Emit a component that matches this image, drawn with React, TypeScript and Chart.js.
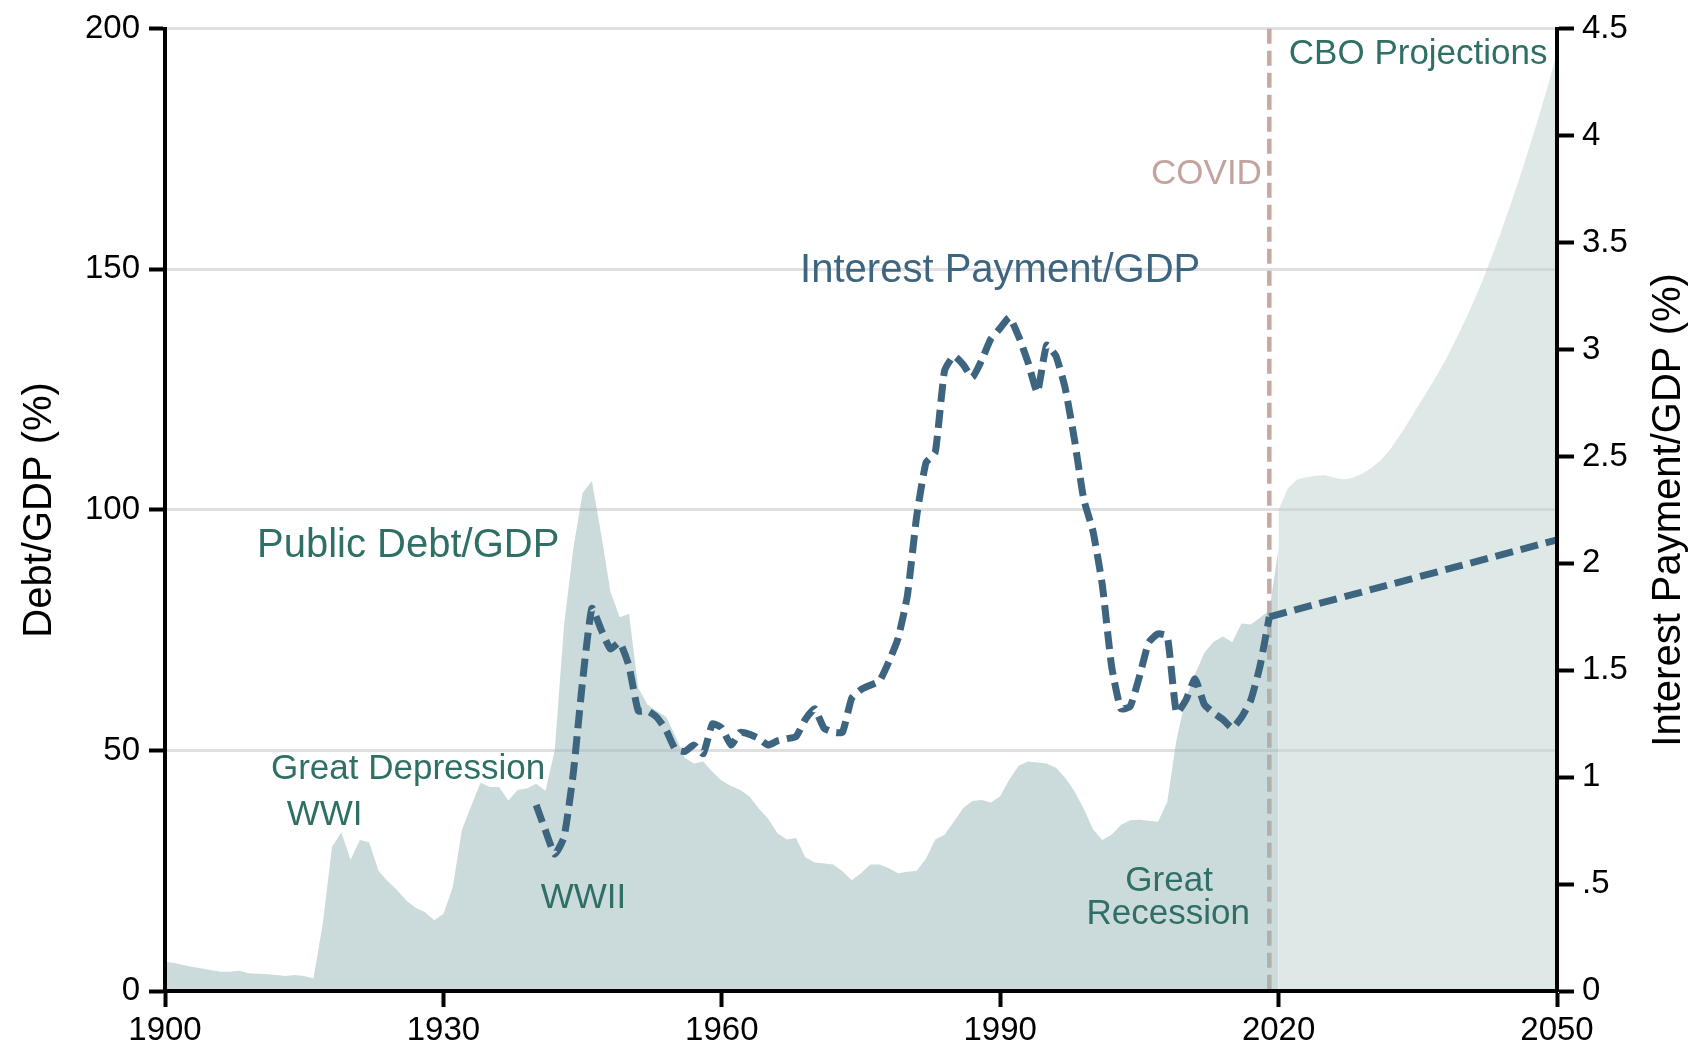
import React, { useEffect, useRef } from 'react';
import { Chart, registerables } from 'chart.js';

Chart.register(...registerables);

const FONT = "'Liberation Sans', Arial, Helvetica, sans-serif";

// Public debt / GDP (%), historical
const debtYears = [
  1900, 1901, 1902, 1903, 1904, 1905, 1906, 1907, 1908, 1909,
  1910, 1911, 1912, 1913, 1914, 1915, 1916, 1917, 1918, 1919,
  1920, 1921, 1922, 1923, 1924, 1925, 1926, 1927, 1928, 1929,
  1930, 1931, 1932, 1933, 1934, 1935, 1936, 1937, 1938, 1939,
  1940, 1941, 1942, 1943, 1944, 1945, 1946, 1947, 1948, 1949,
  1950, 1951, 1952, 1953, 1954, 1955, 1956, 1957, 1958, 1959,
  1960, 1961, 1962, 1963, 1964, 1965, 1966, 1967, 1968, 1969,
  1970, 1971, 1972, 1973, 1974, 1975, 1976, 1977, 1978, 1979,
  1980, 1981, 1982, 1983, 1984, 1985, 1986, 1987, 1988, 1989,
  1990, 1991, 1992, 1993, 1994, 1995, 1996, 1997, 1998, 1999,
  2000, 2001, 2002, 2003, 2004, 2005, 2006, 2007, 2008, 2009,
  2010, 2011, 2012, 2013, 2014, 2015, 2016, 2017, 2018, 2019,
  2020,
];
const debtValues = [
  6.1, 5.8, 5.4, 5.0, 4.7, 4.3, 4.0, 4.0, 4.2, 3.7,
  3.6, 3.5, 3.3, 3.1, 3.3, 3.1, 2.6, 14.0, 30.0, 33.0,
  27.3, 31.4, 30.9, 25.0, 22.8, 21.0, 18.8, 17.3, 16.4, 14.7,
  16.0, 21.5, 33.5, 38.5, 43.3, 42.4, 42.4, 39.6, 41.8, 42.1,
  43.1, 41.6, 50.0, 76.0, 92.0, 103.5, 106.0, 95.0, 83.0, 77.7,
  78.4, 63.0, 59.5, 58.2, 57.0, 53.0, 48.5, 47.3, 47.7, 45.5,
  43.7, 42.6, 41.8, 40.4, 37.9, 35.8, 32.8, 31.5, 31.8, 27.8,
  26.7, 26.5, 26.3, 24.9, 23.0, 24.5, 26.3, 26.3, 25.5, 24.5,
  24.8, 25.0, 27.5, 31.5, 32.5, 35.2, 38.0, 39.5, 39.7, 39.2,
  40.5, 44.0, 46.8, 47.7, 47.5, 47.3, 46.4, 44.3, 41.5, 37.9,
  33.6, 31.4, 32.5, 34.5, 35.5, 35.6, 35.4, 35.2, 39.3, 52.3,
  60.9, 65.9, 70.3, 72.6, 73.7, 72.5, 76.4, 76.2, 77.6, 79.2,
  92.0,
];

// CBO projection of public debt / GDP (%)
const projYears = [
  2020, 2021, 2022, 2023, 2024, 2025, 2026, 2027, 2028, 2029,
  2030, 2031, 2032, 2033, 2034, 2035, 2036, 2037, 2038, 2039,
  2040, 2041, 2042, 2043, 2044, 2045, 2046, 2047, 2048, 2049,
  2050,
];
const projValues = [
  100.0, 104.5, 106.3, 106.8, 107.1, 107.2, 106.7, 106.3, 106.7, 107.5,
  108.7, 110.3, 112.5, 115.3, 118.3, 121.5, 124.6, 127.8, 131.2, 135.0,
  139.0, 143.2, 147.8, 152.8, 158.0, 163.5, 169.2, 175.2, 181.5, 188.0,
  195.0,
];

// Interest payment / GDP (%), historical
const interestYears = [
  1940, 1941, 1942, 1943, 1944, 1945, 1946, 1947, 1948, 1949,
  1950, 1951, 1952, 1953, 1954, 1955, 1956, 1957, 1958, 1959,
  1960, 1961, 1962, 1963, 1964, 1965, 1966, 1967, 1968, 1969,
  1970, 1971, 1972, 1973, 1974, 1975, 1976, 1977, 1978, 1979,
  1980, 1981, 1982, 1983, 1984, 1985, 1986, 1987, 1988, 1989,
  1990, 1991, 1992, 1993, 1994, 1995, 1996, 1997, 1998, 1999,
  2000, 2001, 2002, 2003, 2004, 2005, 2006, 2007, 2008, 2009,
  2010, 2011, 2012, 2013, 2014, 2015, 2016, 2017, 2018, 2019,
];
const interestValues = [
  0.87, 0.75, 0.64, 0.72, 1.02, 1.45, 1.79, 1.69, 1.60, 1.63,
  1.52, 1.31, 1.31, 1.28, 1.22, 1.13, 1.12, 1.15, 1.11, 1.25,
  1.23, 1.15, 1.21, 1.20, 1.18, 1.15, 1.17, 1.18, 1.19, 1.27,
  1.32, 1.23, 1.21, 1.21, 1.37, 1.41, 1.43, 1.45, 1.54, 1.65,
  1.85, 2.22, 2.47, 2.52, 2.90, 2.97, 2.93, 2.87, 2.95, 3.05,
  3.10, 3.15, 3.06, 2.94, 2.80, 3.02, 2.97, 2.82, 2.58, 2.30,
  2.15, 1.90, 1.52, 1.32, 1.33, 1.47, 1.63, 1.67, 1.66, 1.30,
  1.36, 1.46, 1.34, 1.30, 1.27, 1.23, 1.28, 1.36, 1.52, 1.75,
];

// Interest payment / GDP projection (%)
const interestProjYears = [2019, 2050];
const interestProjValues = [1.75, 2.11];

const covidYear = 2019;

const xTicks = [1900, 1930, 1960, 1990, 2020, 2050];

const GREEN = '#2f6f66';
const BLUE = '#3d6580';
const COVID_TEXT = '#c3a39e';
const COVID_LINE = 'rgb(200,168,162)';
const HIST_FILL = 'rgba(151,181,181,0.5)';
const PROJ_FILL = 'rgba(189,209,205,0.5)';

type Note = { text: string; x: number; y: number; color: string; size: number; align: CanvasTextAlign };
const notes: Note[] = [
  { text: 'Public Debt/GDP', x: 1926.2, y: 90.2, color: GREEN, size: 40, align: 'center' },
  { text: 'Interest Payment/GDP', x: 1990.0, y: 147.3, color: BLUE, size: 40, align: 'center' },
  { text: 'Great Depression', x: 1926.2, y: 44.0, color: GREEN, size: 35, align: 'center' },
  { text: 'WWI', x: 1917.2, y: 34.5, color: GREEN, size: 35, align: 'center' },
  { text: 'WWII', x: 1945.1, y: 17.3, color: GREEN, size: 35, align: 'center' },
  { text: 'Great', x: 2008.2, y: 20.7, color: GREEN, size: 35, align: 'center' },
  { text: 'Recession', x: 2008.1, y: 13.9, color: GREEN, size: 35, align: 'center' },
  { text: 'COVID', x: 2018.2, y: 167.8, color: COVID_TEXT, size: 35, align: 'right' },
  { text: 'CBO Projections', x: 2021.1, y: 192.6, color: GREEN, size: 35, align: 'left' },
];

const toXY = (xs: number[], ys: number[]) => xs.map((x, i) => ({ x, y: ys[i] }));

const notesPlugin = {
  id: 'notesPlugin',
  beforeDatasetsDraw(chart: any) {
    const { ctx, chartArea, scales } = chart;
    const x = scales.x.getPixelForValue(covidYear);
    ctx.save();
    ctx.strokeStyle = COVID_LINE;
    ctx.lineWidth = 4.5;
    ctx.setLineDash([15, 7]);
    ctx.beginPath();
    ctx.moveTo(x, chartArea.top);
    ctx.lineTo(x, chartArea.bottom);
    ctx.stroke();
    ctx.restore();
  },
  afterDatasetsDraw(chart: any) {
    const { ctx, scales } = chart;
    ctx.save();
    ctx.textBaseline = 'alphabetic';
    for (const n of notes) {
      ctx.font = `${n.size}px ${FONT}`;
      ctx.fillStyle = n.color;
      ctx.textAlign = n.align;
      ctx.fillText(n.text, scales.x.getPixelForValue(n.x), scales.y.getPixelForValue(n.y));
    }
    ctx.restore();
  },
  afterDraw(chart: any) {
    const { ctx, chartArea } = chart;
    ctx.save();
    ctx.translate(chartArea.right + 112, (chartArea.top + chartArea.bottom) / 2);
    ctx.rotate(-Math.PI / 2);
    ctx.font = `40px ${FONT}`;
    ctx.fillStyle = '#000';
    ctx.textAlign = 'center';
    ctx.textBaseline = 'middle';
    ctx.fillText('Interest Payment/GDP (%)', 0, 0);
    ctx.restore();
  },
};

export default function App() {
  const ref = useRef<HTMLCanvasElement | null>(null);

  useEffect(() => {
    const canvas = ref.current;
    if (!canvas) return;
    Chart.defaults.font.family = FONT;
    const tickFont = { family: FONT, size: 33 };
    const lineStyle = {
      borderColor: BLUE,
      borderWidth: 7,
      borderDash: [18, 8],
      pointRadius: 0,
      fill: false,
      tension: 0.15,
      yAxisID: 'y2',
      order: 0,
    };
    const chart = new Chart(canvas, {
      type: 'line',
      data: {
        datasets: [
          { label: 'Interest Payment/GDP', data: toXY(interestYears, interestValues), ...lineStyle } as any,
          { label: 'Interest Payment/GDP projection', data: toXY(interestProjYears, interestProjValues), ...lineStyle } as any,
          {
            label: 'Public Debt/GDP',
            data: toXY(debtYears, debtValues),
            yAxisID: 'y',
            borderWidth: 0,
            borderColor: 'rgba(0,0,0,0)',
            backgroundColor: HIST_FILL,
            fill: 'origin',
            pointRadius: 0,
            tension: 0,
            order: 2,
          } as any,
          {
            label: 'CBO Projections',
            data: toXY(projYears, projValues),
            yAxisID: 'y',
            borderWidth: 0,
            borderColor: 'rgba(0,0,0,0)',
            backgroundColor: PROJ_FILL,
            fill: 'origin',
            pointRadius: 0,
            tension: 0,
            order: 2,
          } as any,
        ],
      },
      options: {
        responsive: false,
        maintainAspectRatio: false,
        animation: false,
        devicePixelRatio: 1,
        layout: { padding: { top: 24, left: 0, right: 0, bottom: 0 } },
        plugins: { legend: { display: false }, tooltip: { enabled: false } },
        scales: {
          x: {
            type: 'linear',
            min: 1900,
            max: 2050,
            afterFit: (s: any) => { s.height = 55; },
            afterBuildTicks: (s: any) => { s.ticks = xTicks.map((v) => ({ value: v })); },
            ticks: {
              stepSize: 30,
              autoSkip: false,
              maxRotation: 0,
              padding: 4,
              color: '#000',
              font: tickFont,
              callback: (v: any) => String(v),
            },
            grid: { drawOnChartArea: false, drawTicks: true, tickLength: 16, tickWidth: 4, tickColor: '#000' },
            border: { display: true, color: '#000', width: 4, z: 1 },
          },
          y: {
            position: 'left',
            min: 0,
            max: 200,
            afterFit: (s: any) => { s.width = 165; },
            ticks: { stepSize: 50, padding: 9, color: '#000', font: tickFont },
            grid: { color: '#e0e0e0', lineWidth: 3, tickLength: 16, tickWidth: 4, tickColor: '#000' },
            border: { display: true, color: '#000', width: 4, z: 1 },
            title: {
              display: true,
              text: 'Debt/GDP (%)',
              color: '#000',
              font: { family: FONT, size: 40 },
              padding: { top: 16, bottom: 0 },
            },
          },
          y2: {
            position: 'right',
            min: 0,
            max: 4.5,
            afterFit: (s: any) => { s.width = 137; },
            ticks: {
              stepSize: 0.5,
              padding: 8,
              color: '#000',
              font: tickFont,
              callback: (v: any) => (v === 0 ? '0' : v < 1 ? String(v).replace(/^0/, '') : String(v)),
            },
            grid: { drawOnChartArea: false, tickLength: 17, tickWidth: 4, tickColor: '#000' },
            border: { display: true, color: '#000', width: 4, z: 1 },
          },
        },
      } as any,
      plugins: [notesPlugin],
    });
    return () => chart.destroy();
  }, []);

  return (
    <div style={{ position: 'absolute', left: 0, top: 0, width: 1694, height: 1046, background: '#fff' }}>
      <canvas ref={ref} width={1694} height={1046} style={{ display: 'block', width: 1694, height: 1046 }} />
    </div>
  );
}
